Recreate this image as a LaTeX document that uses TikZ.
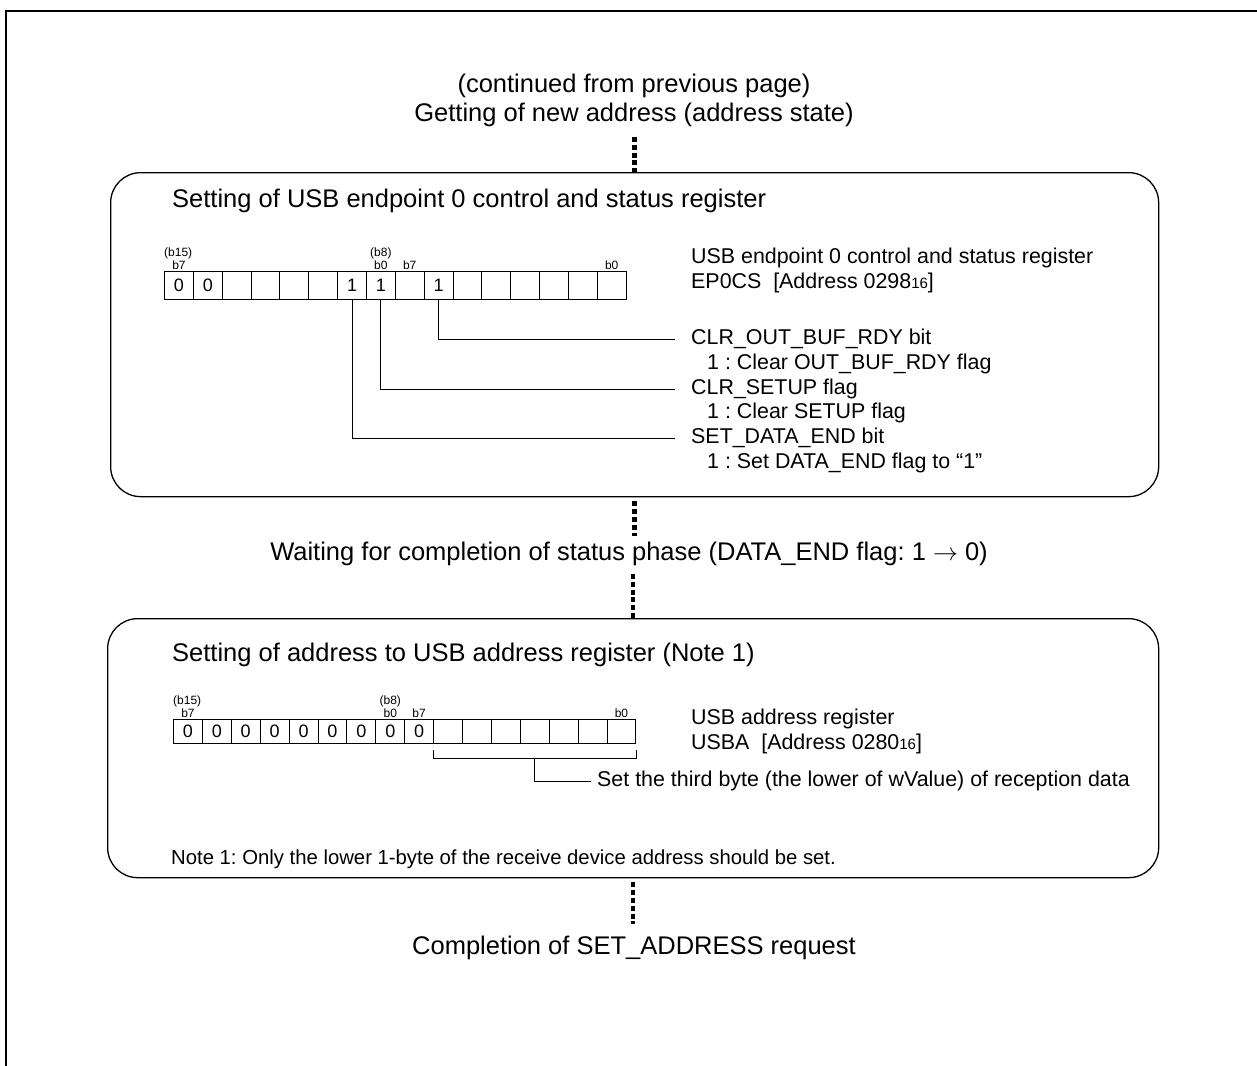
\documentclass[tikz,border=0pt]{standalone}
\usepackage{fontspec}
\setmainfont{Liberation Sans}
\usetikzlibrary{calc}
\frenchspacing
\begin{document}
\begin{tikzpicture}[x=1pt,y=-1pt,
  head/.style={font=\fontsize{25.5}{30}\selectfont, inner sep=0pt},
  boxtitle/.style={font=\fontsize{25.5}{30}\selectfont, inner sep=0pt, anchor=west},
  desc/.style={font=\fontsize{21.4}{25}\selectfont, inner sep=0pt, anchor=west},
  leadtxt/.style={font=\fontsize{21.4}{25}\selectfont, inner ysep=0pt, inner xsep=0pt, anchor=west},
  notetxt/.style={font=\fontsize{20.3}{24}\selectfont, inner sep=0pt, anchor=west},
  bitl/.style={font=\fontsize{12}{14}\selectfont, inner sep=0pt},
  cellA/.style={draw, line width=1pt, minimum width=28.85pt, minimum height=28pt, anchor=north west, inner sep=0pt, font=\fontsize{18}{20}\selectfont},
  cellB/.style={draw, line width=1pt, minimum width=28.9pt, minimum height=24pt, anchor=north west, inner sep=0pt, font=\fontsize{18}{20}\selectfont},
  roundbox/.style={draw, line width=1.3pt, rounded corners=30pt, anchor=north west, inner sep=0pt},
  dotline/.style={line width=4.5pt, dash pattern=on 5pt off 2.8pt},
  lead/.style={line width=1pt}
]
\useasboundingbox (0,0) rectangle (1257,1065);
% outer frame (open to right and bottom)
\draw[line width=2.5pt] (6,1066) -- (6,11) -- (1258,11);

% headings
\node[head] (h1) at (634,86) {(continued from previous page)};
\node[head] (h2) at (634,115) {Getting of new address (address state)};

% box 1
\node[roundbox, minimum width=1048pt, minimum height=324pt] (box1) at (110,172) {};
\node[boxtitle] (t1) at (172,201) {Setting of USB endpoint 0 control and status register};

% register 1
\foreach \i/\v in {0/0,1/0,2/,3/,4/,5/,6/1,7/1,8/,9/1,10/,11/,12/,13/,14/,15/}{
  \node[cellA] (r1c\i) at ({164+\i*28.85},271) {\v};
}
\node[bitl, anchor=south west] (r1b15) at ([yshift=12pt]r1c0.north west) {(b15)};
\node[bitl, anchor=south] (r1b7a) at ([yshift=1.5pt]r1c0.north) {b7};
\node[bitl, anchor=south] (r1b8) at ([yshift=12pt]r1c7.north) {(b8)};
\node[bitl, anchor=south] (r1b0a) at ([yshift=1.5pt]r1c7.north) {b0};
\node[bitl, anchor=south] (r1b7b) at ([yshift=1.5pt]r1c8.north) {b7};
\node[bitl, anchor=south] (r1b0b) at ([yshift=1.5pt]r1c15.north) {b0};

\node[desc] (e1) at (691,258) {USB endpoint 0 control and status register};
\node[desc] (e2) at (691,283) {EP0CS\ \ [Address 0298{\fontsize{15}{15}\selectfont 16}]};

\node[leadtxt] (l1) at (691,339) {CLR\_OUT\_BUF\_RDY bit};
\node[desc] (l1b) at (707,364) {1 : Clear OUT\_BUF\_RDY flag};
\node[leadtxt] (l2) at (691,389) {CLR\_SETUP flag};
\node[desc] (l2b) at (707,413) {1 : Clear SETUP flag};
\node[leadtxt] (l3) at (691,438) {SET\_DATA\_END bit};
\node[desc] (l3b) at (707,463) {1 : Set DATA\_END flag to “1”};

\draw[lead] (r1c9.south) |- ([xshift=-16pt]l1.west);
\draw[lead] (r1c7.south) |- ([xshift=-16pt]l2.west);
\draw[lead] (r1c6.south) |- ([xshift=-16pt]l3.west);

% waiting
\node[head] (w) at (629,554) {Waiting for completion of status phase (DATA\_END flag: 1 $\rightarrow$ 0)};

% box 2
\node[roundbox, minimum width=1051pt, minimum height=259pt] (box2) at (107,618) {};
\node[boxtitle] (t2) at (172,655) {Setting of address to USB address register (Note 1)};

\foreach \i/\v in {0/0,1/0,2/0,3/0,4/0,5/0,6/0,7/0,8/0,9/,10/,11/,12/,13/,14/,15/}{
  \node[cellB] (r2c\i) at ({173+\i*28.9},719) {\v};
}
\node[bitl, anchor=south west] (r2b15) at ([yshift=12pt]r2c0.north west) {(b15)};
\node[bitl, anchor=south] (r2b7a) at ([yshift=1.5pt]r2c0.north) {b7};
\node[bitl, anchor=south] (r2b8) at ([yshift=12pt]r2c7.north) {(b8)};
\node[bitl, anchor=south] (r2b0a) at ([yshift=1.5pt]r2c7.north) {b0};
\node[bitl, anchor=south] (r2b7b) at ([yshift=1.5pt]r2c8.north) {b7};
\node[bitl, anchor=south] (r2b0b) at ([yshift=1.5pt]r2c15.north) {b0};

\node[desc] (u1) at (691,719) {USB address register};
\node[desc] (u2) at (691,744) {USBA\ \ [Address 0280{\fontsize{15}{15}\selectfont 16}]};

% bracket under cells 9..15
\coordinate (bl) at ([yshift=-6pt]r2c9.south west);
\coordinate (br) at ([yshift=-6pt]r2c15.south east);
\coordinate (bm) at ($(bl)!0.5!(br)$);
\draw[lead] (bl) -- ++(0,8) -- ([yshift=-8pt]br) -- (br);
\draw[lead] ([yshift=-8pt]bm) -- ++(0,5);
\node[leadtxt, inner xsep=6pt] (s1) at (591,781) {Set the third byte (the lower of wValue) of reception data};
\draw[lead] ([yshift=-13pt]bm) |- (s1.west);

\node[notetxt] (n1) at (171,859) {Note 1: Only the lower 1-byte of the receive device address should be set.};

% completion
\node[head] (c1) at (634,948) {Completion of SET\_ADDRESS request};

% dotted connectors
\draw[dotline] ([yshift=-10pt]h2.south -| box1.north) -- (box1.north);
\draw[dotline] ([yshift=-4pt]box1.south) -- ([yshift=6pt]w.north -| box1.south);
\draw[dotline] ([yshift=-8pt]w.south -| box2.north) -- (box2.north);
\draw[dotline] ([yshift=-4pt]box2.south) -- ([yshift=12pt]c1.north -| box2.south);
\end{tikzpicture}
\end{document}
